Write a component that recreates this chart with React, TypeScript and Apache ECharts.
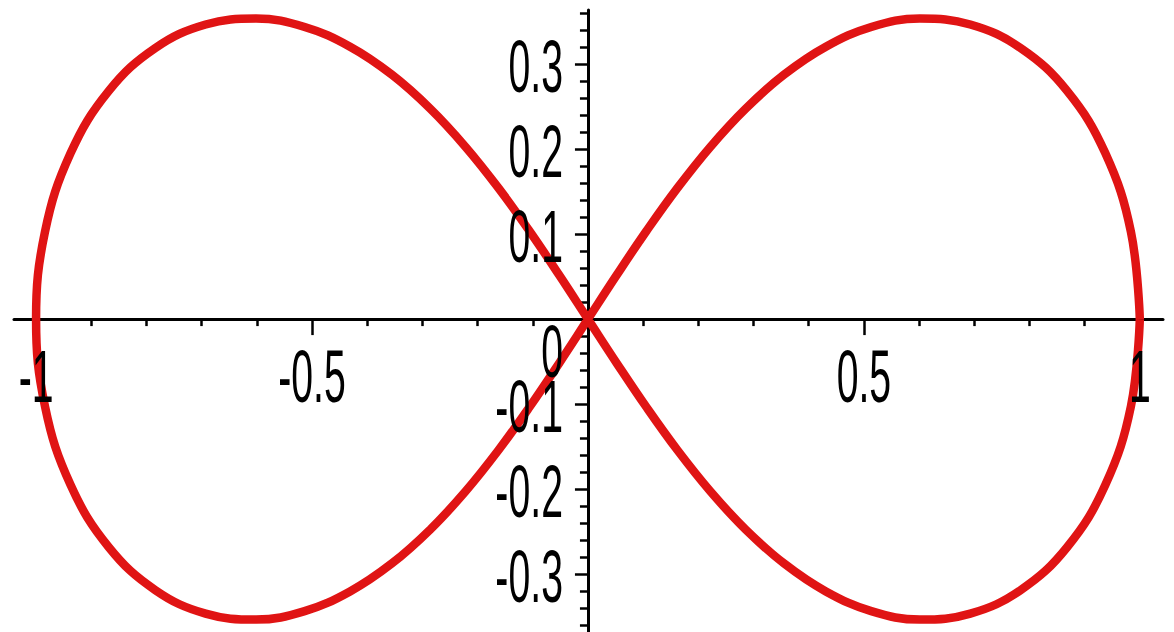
import React, { useEffect, useRef } from "react";
import * as echarts from "echarts";

// Lemniscate-shaped curve, in drawing order
const curveX = [
  1, 0.9838, 0.9376, 0.8682, 0.7838, 0.6928, 0.6013, 0.5133, 0.4311, 0.3553, 0.2857, 0.2217, 0.1623, 0.1063, 0.0526, 0,
  -0.0526, -0.1063, -0.1623, -0.2217, -0.2857, -0.3553, -0.4311, -0.5133, -0.6013, -0.6928, -0.7838, -0.8682, -0.9376, -0.9838, -1,
  -0.9838, -0.9376, -0.8682, -0.7838, -0.6928, -0.6013, -0.5133, -0.4311, -0.3553, -0.2857, -0.2217, -0.1623, -0.1063, -0.0526, 0,
  0.0526, 0.1063, 0.1623, 0.2217, 0.2857, 0.3553, 0.4311, 0.5133, 0.6013, 0.6928, 0.7838, 0.8682, 0.9376, 0.9838, 1,
];
const curveY = [
  0, 0.1028, 0.1949, 0.2683, 0.3188, 0.3464, 0.3534, 0.3435, 0.3203, 0.2874, 0.2474, 0.2025, 0.1543, 0.1039, 0.0523, 0,
  -0.0523, -0.1039, -0.1543, -0.2025, -0.2474, -0.2874, -0.3203, -0.3435, -0.3534, -0.3464, -0.3188, -0.2683, -0.1949, -0.1028, 0,
  0.1028, 0.1949, 0.2683, 0.3188, 0.3464, 0.3534, 0.3435, 0.3203, 0.2874, 0.2474, 0.2025, 0.1543, 0.1039, 0.0523, 0,
  -0.0523, -0.1039, -0.1543, -0.2025, -0.2474, -0.2874, -0.3203, -0.3435, -0.3534, -0.3464, -0.3188, -0.2683, -0.1949, -0.1028, 0,
];

const xRange = [-1.04, 1.042];
const yRange = [-0.368, 0.3635];

const xMajorTicks = [-1, -0.5, 0.5, 1];
const xMinorTicks = [-0.9, -0.8, -0.7, -0.6, -0.4, -0.3, -0.2, -0.1, 0.1, 0.2, 0.3, 0.4, 0.6, 0.7, 0.8, 0.9];
const yMajorTicks = [-0.3, -0.2, -0.1, 0.1, 0.2, 0.3];
const yMinorTicks = [
  -0.36, -0.34, -0.32, -0.28, -0.26, -0.24, -0.22, -0.18, -0.16, -0.14, -0.12, -0.08, -0.06, -0.04, -0.02,
  0.02, 0.04, 0.06, 0.08, 0.12, 0.14, 0.16, 0.18, 0.22, 0.24, 0.26, 0.28, 0.32, 0.34, 0.36,
];

const xLabelValues = [-1, -0.5, 0.5, 1];
const xLabelTexts = ["-1", "-0.5", "0.5", "1"];
const yLabelValues = [-0.3, -0.2, -0.1, 0.1, 0.2, 0.3];
const yLabelTexts = ["-0.3", "-0.2", "-0.1", "0.1", "0.2", "0.3"];
const zeroLabel = "0";

const AXIS_COLOR = "#000000";
const CURVE_COLOR = "#e01414";
const LABEL_FONT = "Liberation Sans";
const LABEL_SIZE = 74;
const LABEL_SCALE_X = 0.53;

export default function App() {
  const ref = useRef<HTMLDivElement>(null);

  useEffect(() => {
    if (!ref.current) return;
    const chart = echarts.init(ref.current, null, { renderer: "svg" });

    const baseAxis = (pos: string, range: number[]) => ({
      type: "value",
      position: pos,
      min: range[0],
      max: range[1],
      splitLine: { show: false },
      axisLabel: { show: false },
    });

    chart.setOption({
      animation: false,
      backgroundColor: "#ffffff",
      grid: { left: 14, right: 11, top: 10, bottom: 0, containLabel: false },
      xAxis: [
        {
          ...baseAxis("bottom", xRange),
          axisLine: { show: true, onZero: true, lineStyle: { color: AXIS_COLOR, width: 3 } },
          axisTick: { show: true, customValues: xMajorTicks, length: 16, lineStyle: { color: AXIS_COLOR, width: 2.5 } },
        },
        {
          ...baseAxis("bottom", xRange),
          axisLine: { show: false, onZero: true },
          axisTick: { show: true, customValues: xMinorTicks, length: 7, lineStyle: { color: AXIS_COLOR, width: 2.5 } },
        },
      ],
      yAxis: [
        {
          ...baseAxis("left", yRange),
          axisLine: { show: true, onZero: true, lineStyle: { color: AXIS_COLOR, width: 3 } },
          axisTick: { show: true, customValues: yMajorTicks, length: 13, lineStyle: { color: AXIS_COLOR, width: 2.5 } },
        },
        {
          ...baseAxis("left", yRange),
          axisLine: { show: false, onZero: true },
          axisTick: { show: true, customValues: yMinorTicks, length: 8, lineStyle: { color: AXIS_COLOR, width: 2.5 } },
        },
      ],
      series: [
        {
          type: "line",
          xAxisIndex: 0,
          yAxisIndex: 0,
          data: curveX.map((x, i) => [x, curveY[i]]),
          showSymbol: false,
          smooth: 0.4,
          lineStyle: { color: CURVE_COLOR, width: 8.5 },
          z: 3,
        },
      ],
    });

    const toPx = (x: number, y: number) =>
      chart.convertToPixel({ xAxisIndex: 0, yAxisIndex: 0 }, [x, y]) as number[];
    const origin = toPx(0, 0);

    const textStyle = (text: string, align: string) => ({
      text,
      fill: "#000000",
      fontFamily: LABEL_FONT,
      fontSize: LABEL_SIZE,
      textAlign: align,
      textVerticalAlign: "middle",
      textBaseline: "middle",
    });

    const graphics: any[] = [];
    xLabelValues.forEach((v, i) => {
      const p = toPx(v, 0);
      graphics.push({
        type: "text",
        x: p[0],
        y: origin[1] + 57,
        scaleX: LABEL_SCALE_X,
        z: 10,
        style: textStyle(xLabelTexts[i], "center"),
      });
    });
    yLabelValues.forEach((v, i) => {
      const p = toPx(0, v);
      graphics.push({
        type: "text",
        x: origin[0] - 25,
        y: p[1] + 2,
        scaleX: LABEL_SCALE_X,
        z: 10,
        style: textStyle(yLabelTexts[i], "right"),
      });
    });
    graphics.push({
      type: "text",
      x: origin[0] - 25,
      y: origin[1] + 32,
      scaleX: LABEL_SCALE_X,
      z: 10,
      style: textStyle(zeroLabel, "right"),
    });

    chart.setOption({ graphic: graphics });

    return () => chart.dispose();
  }, []);

  return (
    <div
      ref={ref}
      style={{ position: "fixed", left: 0, top: 0, width: 1174, height: 632, background: "#ffffff" }}
    />
  );
}
